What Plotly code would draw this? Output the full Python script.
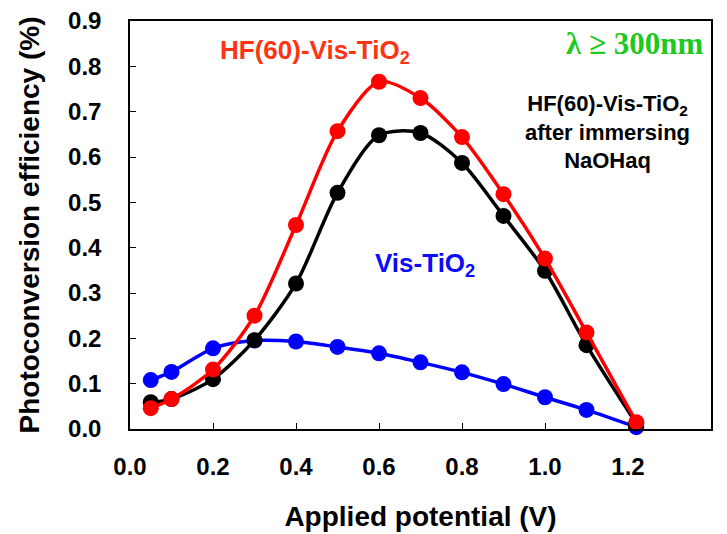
import plotly.graph_objects as go

potential = [0.05, 0.1, 0.2, 0.3, 0.4, 0.5, 0.6, 0.7, 0.8, 0.9, 1.0, 1.1, 1.22]
hf_vis = [0.046, 0.066, 0.131, 0.25, 0.45, 0.657, 0.766, 0.73, 0.644, 0.518, 0.376, 0.213, 0.015]
hf_naoh = [0.059, 0.066, 0.11, 0.196, 0.321, 0.521, 0.648, 0.653, 0.587, 0.47, 0.349, 0.185, 0.012]
vis = [0.108, 0.126, 0.178, 0.195, 0.193, 0.181, 0.167, 0.147, 0.125, 0.099, 0.07, 0.042, 0.004]

fig = go.Figure()
for ys, col in [(vis, "#0000ff"), (hf_naoh, "#000000"), (hf_vis, "#ff0000")]:
    fig.add_trace(go.Scatter(
        x=potential, y=ys, mode="lines+markers",
        line=dict(color=col, width=3.5, shape="spline", smoothing=0.8),
        marker=dict(color=col, size=16),
        cliponaxis=False, showlegend=False))

FAM = "Liberation Sans, Arial"
tickf = dict(family=FAM, size=24, color="black", weight="bold")
axis_common = dict(showline=True, linecolor="black", linewidth=1.5, mirror=True,
                   ticks="inside", ticklen=6, tickcolor="black", showgrid=False,
                   zeroline=False, tickfont=tickf, tickformat=".1f", automargin=False)
fig.update_xaxes(range=[0, 1.4], dtick=0.2, tick0=0, ticklabelstandoff=15,
                 title=dict(text="Applied potential (V)",
                            font=dict(family=FAM, size=28, color="black", weight="bold"),
                            standoff=28),
                 **axis_common)
fig.update_yaxes(range=[0, 0.9], dtick=0.1, tick0=0, ticklabelstandoff=22,
                 title=dict(text="Photoconversion efficiency (%)",
                            font=dict(family=FAM, size=28, color="black", weight="bold"),
                            standoff=20),
                 **axis_common)

ann_font = dict(family=FAM, weight="bold")
fig.add_annotation(x=0.212, y=0.832, xref="x", yref="y", showarrow=False, xanchor="left",
                   text="HF(60)-Vis-TiO<sub>2</sub>", font=dict(ann_font, size=26, color="#ff3311"))
fig.add_annotation(x=1.385, y=0.85, xref="x", yref="y", showarrow=False, xanchor="right",
                   text="λ ≥ 300nm",
                   font=dict(family="Liberation Serif, Times New Roman", size=31, color="#1fc91f", weight="bold"))
fig.add_annotation(x=1.15, y=0.655, xref="x", yref="y", showarrow=False,
                   text="HF(60)-Vis-TiO<sub>2</sub><br>after immersing<br>NaOHaq",
                   font=dict(ann_font, size=22, color="black"), align="center")
fig.add_annotation(x=0.585, y=0.362, xref="x", yref="y", showarrow=False, xanchor="left",
                   text="Vis-TiO<sub>2</sub>", font=dict(ann_font, size=26, color="#0a0aff"))

fig.update_layout(width=727, height=534, margin=dict(l=130, r=16, t=21, b=105),
                  paper_bgcolor="white", plot_bgcolor="white")
fig.write_html("out.html")
